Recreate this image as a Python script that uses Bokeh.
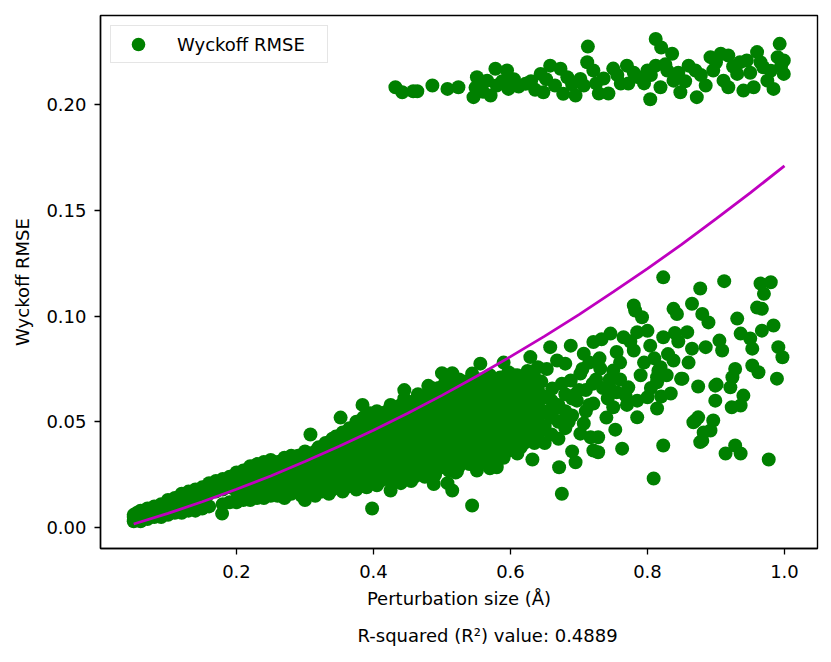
from bokeh.plotting import figure
from bokeh.models import Range1d, FixedTicker, PrintfTickFormatter, Title, Legend, LegendItem
from bokeh.embed import file_html
from bokeh.resources import INLINE

# ---- data ----
# lower band: (perturbation size, Wyckoff RMSE)
points_low = [
    (0.050, 0.003), (0.050, 0.005), (0.050, 0.006), (0.055, 0.004), (0.055, 0.007),
    (0.060, 0.003), (0.060, 0.006), (0.060, 0.008), (0.070, 0.004), (0.070, 0.007),
    (0.070, 0.009), (0.080, 0.005), (0.080, 0.008), (0.080, 0.010), (0.090, 0.005),
    (0.090, 0.009), (0.090, 0.011), (0.100, 0.006), (0.100, 0.010), (0.100, 0.013),
    (0.110, 0.007), (0.110, 0.011), (0.110, 0.014), (0.120, 0.007), (0.120, 0.012),
    (0.120, 0.016), (0.130, 0.008), (0.130, 0.013), (0.130, 0.017), (0.140, 0.008),
    (0.140, 0.014), (0.140, 0.018), (0.150, 0.009), (0.150, 0.015), (0.150, 0.019),
    (0.160, 0.010), (0.160, 0.016), (0.160, 0.021), (0.179, 0.0066), (0.170, 0.017),
    (0.170, 0.022), (0.180, 0.011), (0.180, 0.018), (0.180, 0.023), (0.190, 0.012),
    (0.190, 0.019), (0.190, 0.024), (0.200, 0.012), (0.200, 0.017), (0.200, 0.022),
    (0.200, 0.026), (0.210, 0.013), (0.210, 0.018), (0.210, 0.023), (0.210, 0.027),
    (0.220, 0.013), (0.220, 0.019), (0.220, 0.025), (0.220, 0.029), (0.230, 0.014),
    (0.230, 0.020), (0.230, 0.026), (0.230, 0.030), (0.240, 0.014), (0.240, 0.021),
    (0.240, 0.027), (0.240, 0.031), (0.250, 0.015), (0.250, 0.022), (0.250, 0.028),
    (0.250, 0.032), (0.260, 0.015), (0.260, 0.021), (0.260, 0.027), (0.260, 0.031),
    (0.270, 0.014), (0.270, 0.022), (0.270, 0.029), (0.270, 0.033), (0.280, 0.016),
    (0.280, 0.023), (0.280, 0.030), (0.280, 0.034), (0.290, 0.017), (0.290, 0.024),
    (0.290, 0.031), (0.290, 0.034), (0.300, 0.013), (0.300, 0.018), (0.300, 0.025),
    (0.300, 0.032), (0.300, 0.036), (0.310, 0.018), (0.310, 0.026), (0.310, 0.033),
    (0.308, 0.044), (0.320, 0.019), (0.320, 0.027), (0.320, 0.034), (0.320, 0.038),
    (0.330, 0.020), (0.330, 0.028), (0.330, 0.035), (0.330, 0.040), (0.340, 0.018),
    (0.340, 0.025), (0.340, 0.032), (0.340, 0.039), (0.340, 0.042), (0.350, 0.020),
    (0.350, 0.027), (0.350, 0.034), (0.350, 0.041), (0.352, 0.052), (0.360, 0.019),
    (0.360, 0.028), (0.360, 0.036), (0.360, 0.043), (0.370, 0.021), (0.370, 0.030),
    (0.370, 0.037), (0.370, 0.045), (0.380, 0.022), (0.380, 0.031), (0.380, 0.039),
    (0.380, 0.047), (0.384, 0.058), (0.390, 0.019), (0.390, 0.026), (0.390, 0.033),
    (0.390, 0.041), (0.390, 0.048), (0.398, 0.009), (0.400, 0.024), (0.400, 0.030),
    (0.400, 0.037), (0.400, 0.044), (0.400, 0.050), (0.410, 0.022), (0.410, 0.029),
    (0.410, 0.036), (0.410, 0.045), (0.410, 0.052), (0.425, 0.0175), (0.420, 0.027),
    (0.420, 0.034), (0.420, 0.042), (0.420, 0.049), (0.420, 0.055), (0.430, 0.024),
    (0.430, 0.031), (0.430, 0.039), (0.430, 0.047), (0.430, 0.054), (0.440, 0.021),
    (0.440, 0.029), (0.440, 0.036), (0.440, 0.044), (0.440, 0.051), (0.440, 0.058),
    (0.445, 0.065), (0.450, 0.026), (0.450, 0.033), (0.450, 0.041), (0.450, 0.049),
    (0.450, 0.056), (0.460, 0.024), (0.460, 0.031), (0.460, 0.038), (0.460, 0.046),
    (0.460, 0.053), (0.460, 0.060), (0.470, 0.027), (0.470, 0.035), (0.470, 0.043),
    (0.470, 0.050), (0.470, 0.058), (0.488, 0.0206), (0.480, 0.028), (0.480, 0.036),
    (0.480, 0.044), (0.480, 0.052), (0.480, 0.061), (0.480, 0.067), (0.490, 0.025),
    (0.490, 0.032), (0.490, 0.040), (0.490, 0.048), (0.490, 0.056), (0.490, 0.063),
    (0.500, 0.030), (0.500, 0.037), (0.500, 0.045), (0.500, 0.053), (0.500, 0.060),
    (0.500, 0.073), (0.508, 0.021), (0.510, 0.027), (0.510, 0.035), (0.510, 0.042),
    (0.510, 0.050), (0.510, 0.057), (0.510, 0.064), (0.520, 0.026), (0.520, 0.033),
    (0.520, 0.040), (0.520, 0.047), (0.520, 0.055), (0.520, 0.062), (0.515, 0.073),
    (0.515, 0.0175), (0.478, 0.028), (0.522, 0.0266), (0.544, 0.0104), (0.551, 0.027),
    (0.570, 0.028), (0.580, 0.0285), (0.530, 0.036), (0.530, 0.044), (0.530, 0.052),
    (0.530, 0.059), (0.530, 0.066), (0.540, 0.030), (0.540, 0.040), (0.540, 0.048),
    (0.540, 0.056), (0.540, 0.063), (0.544, 0.0728), (0.550, 0.033), (0.550, 0.043),
    (0.550, 0.051), (0.550, 0.059), (0.550, 0.066), (0.556, 0.0775), (0.560, 0.037),
    (0.560, 0.045), (0.560, 0.053), (0.560, 0.061), (0.560, 0.068), (0.570, 0.032),
    (0.570, 0.040), (0.570, 0.048), (0.570, 0.057), (0.570, 0.064), (0.570, 0.072),
    (0.580, 0.036), (0.580, 0.044), (0.580, 0.052), (0.580, 0.060), (0.580, 0.067),
    (0.590, 0.033), (0.590, 0.042), (0.590, 0.050), (0.590, 0.058), (0.590, 0.065),
    (0.590, 0.078), (0.597, 0.0734), (0.600, 0.038), (0.600, 0.046), (0.600, 0.054),
    (0.600, 0.061), (0.600, 0.068), (0.610, 0.035), (0.610, 0.043), (0.610, 0.050),
    (0.610, 0.058), (0.610, 0.065), (0.610, 0.072), (0.620, 0.040), (0.620, 0.048),
    (0.620, 0.056), (0.620, 0.063), (0.620, 0.070), (0.632, 0.0322), (0.630, 0.045),
    (0.630, 0.053), (0.630, 0.061), (0.630, 0.068), (0.629, 0.0806), (0.640, 0.042),
    (0.640, 0.050), (0.640, 0.058), (0.640, 0.065), (0.640, 0.0758), (0.650, 0.040),
    (0.650, 0.048), (0.650, 0.055), (0.650, 0.062), (0.653, 0.075), (0.658, 0.0853),
    (0.660, 0.044), (0.660, 0.052), (0.660, 0.060), (0.661, 0.0657), (0.668, 0.079),
    (0.671, 0.0285), (0.675, 0.016), (0.670, 0.042), (0.670, 0.050), (0.670, 0.058),
    (0.680, 0.047), (0.680, 0.055), (0.680, 0.063), (0.680, 0.0775), (0.688, 0.086),
    (0.688, 0.0695), (0.695, 0.0309), (0.690, 0.036), (0.690, 0.053), (0.690, 0.061),
    (0.697, 0.060), (0.702, 0.0728), (0.702, 0.0444), (0.707, 0.0822), (0.707, 0.0492),
    (0.710, 0.055), (0.710, 0.065), (0.717, 0.0427), (0.721, 0.0877), (0.721, 0.0586),
    (0.721, 0.0364), (0.728, 0.0356), (0.728, 0.0427), (0.731, 0.0752), (0.733, 0.089),
    (0.735, 0.066), (0.740, 0.052), (0.746, 0.0917), (0.750, 0.0742), (0.750, 0.0569),
    (0.753, 0.0463), (0.755, 0.083), (0.760, 0.078), (0.763, 0.0373), (0.768, 0.0624),
    (0.772, 0.0663), (0.775, 0.088), (0.780, 0.105), (0.782, 0.1026), (0.792, 0.0994),
    (0.780, 0.0837), (0.785, 0.0924), (0.785, 0.060), (0.785, 0.0521), (0.790, 0.072),
    (0.800, 0.0616), (0.804, 0.086), (0.809, 0.0232), (0.814, 0.0711), (0.814, 0.0687),
    (0.814, 0.0563), (0.816, 0.0742), (0.819, 0.0758), (0.823, 0.1183), (0.823, 0.090),
    (0.823, 0.0388), (0.830, 0.082), (0.834, 0.0634), (0.838, 0.079), (0.838, 0.1034),
    (0.843, 0.101), (0.849, 0.0703), (0.851, 0.0704), (0.858, 0.0924), (0.865, 0.1058),
    (0.865, 0.0846), (0.867, 0.0498), (0.870, 0.0506), (0.874, 0.0667), (0.874, 0.0521),
    (0.877, 0.113), (0.877, 0.0404), (0.880, 0.101), (0.880, 0.0411), (0.882, 0.045),
    (0.885, 0.0853), (0.889, 0.097), (0.892, 0.0459), (0.896, 0.0506), (0.899, 0.0671),
    (0.899, 0.060), (0.901, 0.0676), (0.905, 0.0884), (0.909, 0.0837), (0.912, 0.1165),
    (0.914, 0.035), (0.921, 0.0663), (0.923, 0.0569), (0.924, 0.0711), (0.928, 0.075),
    (0.928, 0.0388), (0.931, 0.0988), (0.936, 0.0917), (0.936, 0.0577), (0.936, 0.035),
    (0.940, 0.0624), (0.950, 0.0894), (0.953, 0.0846), (0.953, 0.0766), (0.960, 0.104),
    (0.962, 0.0734), (0.965, 0.1154), (0.967, 0.1034), (0.967, 0.0931), (0.970, 0.1105),
    (0.977, 0.0322), (0.980, 0.116), (0.984, 0.0955), (0.989, 0.0704), (0.991, 0.0853),
    (0.997, 0.0805), (0.760, 0.070), (0.770, 0.058), (0.795, 0.078), (0.805, 0.066),
    (0.810, 0.080), (0.828, 0.072), (0.845, 0.088), (0.860, 0.078), (0.730, 0.080),
    (0.745, 0.070), (0.742, 0.061), (0.720, 0.068), (0.700, 0.065), (0.715, 0.078),
    (0.755, 0.064), (0.765, 0.090), (0.800, 0.093), (0.820, 0.062), (0.840, 0.092),
]

# more points inside the dense part of the lower band
points_band = [
    (0.205, 0.015), (0.205, 0.020), (0.205, 0.024), (0.215, 0.016), (0.215, 0.021),
    (0.215, 0.025), (0.225, 0.016), (0.225, 0.022), (0.225, 0.027), (0.235, 0.017),
    (0.235, 0.023), (0.235, 0.028), (0.245, 0.018), (0.245, 0.024), (0.245, 0.029),
    (0.255, 0.018), (0.255, 0.025), (0.255, 0.030), (0.265, 0.018), (0.265, 0.024),
    (0.265, 0.030), (0.275, 0.019), (0.275, 0.026), (0.275, 0.031), (0.285, 0.020),
    (0.285, 0.027), (0.285, 0.032), (0.295, 0.015), (0.295, 0.021), (0.295, 0.028),
    (0.295, 0.034), (0.305, 0.016), (0.305, 0.022), (0.305, 0.029), (0.305, 0.035),
    (0.315, 0.015), (0.315, 0.022), (0.315, 0.030), (0.315, 0.036), (0.325, 0.017),
    (0.325, 0.023), (0.325, 0.031), (0.325, 0.037), (0.335, 0.016), (0.335, 0.024),
    (0.335, 0.032), (0.335, 0.038), (0.345, 0.022), (0.345, 0.029), (0.345, 0.036),
    (0.345, 0.043), (0.355, 0.017), (0.355, 0.024), (0.355, 0.031), (0.355, 0.038),
    (0.355, 0.045), (0.365, 0.023), (0.365, 0.032), (0.365, 0.040), (0.365, 0.047),
    (0.375, 0.018), (0.375, 0.026), (0.375, 0.034), (0.375, 0.042), (0.375, 0.050),
    (0.385, 0.024), (0.385, 0.028), (0.385, 0.036), (0.385, 0.044), (0.385, 0.052),
    (0.395, 0.022), (0.395, 0.030), (0.395, 0.038), (0.395, 0.046), (0.395, 0.054),
    (0.405, 0.020), (0.405, 0.027), (0.405, 0.033), (0.405, 0.041), (0.405, 0.048),
    (0.405, 0.055), (0.415, 0.025), (0.415, 0.031), (0.415, 0.039), (0.415, 0.047),
    (0.415, 0.054), (0.425, 0.022), (0.425, 0.030), (0.425, 0.037), (0.425, 0.045),
    (0.425, 0.052), (0.425, 0.058), (0.435, 0.027), (0.435, 0.034), (0.435, 0.042),
    (0.435, 0.050), (0.435, 0.057), (0.445, 0.025), (0.445, 0.032), (0.445, 0.040),
    (0.445, 0.048), (0.445, 0.055), (0.445, 0.061), (0.455, 0.022), (0.455, 0.029),
    (0.455, 0.037), (0.455, 0.045), (0.455, 0.052), (0.455, 0.059), (0.465, 0.027),
    (0.465, 0.034), (0.465, 0.042), (0.465, 0.049), (0.465, 0.056), (0.465, 0.063),
    (0.475, 0.024), (0.475, 0.031), (0.475, 0.039), (0.475, 0.047), (0.475, 0.054),
    (0.475, 0.062), (0.485, 0.030), (0.485, 0.037), (0.485, 0.045), (0.485, 0.052),
    (0.485, 0.059), (0.485, 0.066), (0.495, 0.028), (0.495, 0.035), (0.495, 0.042),
    (0.495, 0.050), (0.495, 0.058), (0.495, 0.066), (0.505, 0.032), (0.505, 0.040),
    (0.505, 0.047), (0.505, 0.055), (0.505, 0.063), (0.505, 0.069), (0.515, 0.030),
    (0.515, 0.037), (0.515, 0.045), (0.515, 0.053), (0.515, 0.060), (0.515, 0.067),
    (0.525, 0.029), (0.525, 0.036), (0.525, 0.043), (0.525, 0.050), (0.525, 0.058),
    (0.525, 0.065), (0.525, 0.070), (0.535, 0.033), (0.535, 0.040), (0.535, 0.048),
    (0.535, 0.055), (0.535, 0.062), (0.535, 0.069), (0.545, 0.036), (0.545, 0.044),
    (0.545, 0.052), (0.545, 0.059), (0.545, 0.067), (0.555, 0.030), (0.555, 0.039),
    (0.555, 0.047), (0.555, 0.055), (0.555, 0.063), (0.555, 0.070), (0.565, 0.035),
    (0.565, 0.043), (0.565, 0.051), (0.565, 0.059), (0.565, 0.066), (0.575, 0.038),
    (0.575, 0.046), (0.575, 0.054), (0.575, 0.062), (0.575, 0.069), (0.585, 0.033),
    (0.585, 0.040), (0.585, 0.048), (0.585, 0.056), (0.585, 0.064), (0.585, 0.071),
    (0.595, 0.036), (0.595, 0.045), (0.595, 0.053), (0.595, 0.061), (0.595, 0.069),
    (0.605, 0.041), (0.605, 0.049), (0.605, 0.057), (0.605, 0.065), (0.605, 0.072),
    (0.615, 0.038), (0.615, 0.046), (0.615, 0.054), (0.615, 0.061), (0.615, 0.068),
    (0.625, 0.043), (0.625, 0.051), (0.625, 0.059), (0.625, 0.066), (0.625, 0.074),
    (0.635, 0.040), (0.635, 0.048), (0.635, 0.056), (0.635, 0.064), (0.635, 0.071),
    (0.645, 0.046), (0.645, 0.054), (0.645, 0.061), (0.645, 0.069), (0.665, 0.056),
    (0.675, 0.068), (0.685, 0.050), (0.695, 0.063), (0.705, 0.075), (0.715, 0.058),
    (0.725, 0.070), (0.745, 0.066),
]

# upper cluster
points_high = [
    (0.432, 0.2082), (0.442, 0.2058), (0.458, 0.2063), (0.464, 0.2063), (0.486, 0.2090),
    (0.508, 0.2074), (0.524, 0.2082), (0.546, 0.2035), (0.551, 0.2129), (0.549, 0.2080),
    (0.571, 0.2043), (0.578, 0.2169), (0.595, 0.2161), (0.566, 0.2113), (0.580, 0.2090),
    (0.597, 0.2074), (0.622, 0.2098), (0.644, 0.2145), (0.658, 0.2184), (0.648, 0.2058),
    (0.673, 0.2169), (0.677, 0.2051), (0.683, 0.2129), (0.695, 0.2043), (0.702, 0.2121),
    (0.707, 0.2090), (0.712, 0.2200), (0.713, 0.2274), (0.721, 0.2161), (0.729, 0.2052),
    (0.736, 0.2123), (0.743, 0.2052), (0.750, 0.2170), (0.761, 0.2099), (0.770, 0.2184),
    (0.772, 0.2099), (0.787, 0.2129), (0.800, 0.2161), (0.804, 0.2025), (0.812, 0.2310),
    (0.820, 0.2270), (0.812, 0.2184), (0.819, 0.2082), (0.829, 0.2161), (0.836, 0.2240),
    (0.838, 0.2113), (0.848, 0.2058), (0.860, 0.2184), (0.870, 0.2161), (0.872, 0.2035),
    (0.885, 0.2090), (0.892, 0.2224), (0.896, 0.2161), (0.907, 0.2240), (0.911, 0.2113),
    (0.918, 0.2232), (0.918, 0.2082), (0.931, 0.2145), (0.940, 0.2066), (0.945, 0.2208),
    (0.955, 0.2082), (0.960, 0.2248), (0.969, 0.2176), (0.975, 0.2113), (0.984, 0.2074),
    (0.993, 0.2287), (0.999, 0.2208), (0.999, 0.2145), (0.990, 0.2224), (0.556, 0.2100),
    (0.560, 0.2060), (0.588, 0.2110), (0.605, 0.2120), (0.612, 0.2085), (0.630, 0.2110),
    (0.636, 0.2070), (0.652, 0.2120), (0.665, 0.2090), (0.690, 0.2095), (0.725, 0.2100),
    (0.756, 0.2140), (0.780, 0.2150), (0.795, 0.2100), (0.805, 0.2140), (0.826, 0.2190),
    (0.845, 0.2150), (0.855, 0.2110), (0.878, 0.2140), (0.900, 0.2200), (0.925, 0.2180),
    (0.935, 0.2200), (0.950, 0.2150), (0.965, 0.2200), (0.980, 0.2160), (0.995, 0.2180),
]

# fitted curve
fit_x = [0.05, 0.10, 0.15, 0.20, 0.25, 0.30, 0.35, 0.40, 0.45, 0.50,
         0.55, 0.60, 0.65, 0.70, 0.75, 0.80, 0.85, 0.90, 0.95, 1.00]
fit_y = [0.0017, 0.0067, 0.0122, 0.0181, 0.0244, 0.0312, 0.0384, 0.0460, 0.0540, 0.0625,
         0.0714, 0.0808, 0.0905, 0.1007, 0.1114, 0.1224, 0.1339, 0.1459, 0.1582, 0.1710]

x_ticks = [0.2, 0.4, 0.6, 0.8, 1.0]
y_ticks = [0.00, 0.05, 0.10, 0.15, 0.20]
r2_text = "R-squared (R\u00b2) value: 0.4889"

pts = points_low + points_band + points_high
px = [a for a, b in pts]
py = [b for a, b in pts]

FONT = "DejaVu Sans"
FS = "18px"

p = figure(frame_width=717, frame_height=533,
           min_border_left=100, min_border_right=6, min_border_top=15, min_border_bottom=4,
           x_range=Range1d(0.0015, 1.0482), y_range=Range1d(-0.0099, 0.2421),
           output_backend="svg", toolbar_location=None,
           background_fill_color="white", border_fill_color="white")
p.grid.visible = False
p.outline_line_color = "black"
p.outline_line_width = 1.4

sc = p.scatter(px, py, size=14, fill_color="#008000", line_color="#008000", line_width=0)
p.line(fit_x, fit_y, line_color="#bf00bf", line_width=2.8)

for ax in (p.xaxis[0], p.yaxis[0]):
    ax.major_tick_out = 6
    ax.major_tick_in = 0
    ax.minor_tick_out = 0
    ax.minor_tick_in = 0
    ax.axis_line_width = 1.4
    ax.major_tick_line_width = 1.3
    ax.major_label_text_font = FONT
    ax.major_label_text_font_size = FS
    ax.major_label_text_color = "black"
    ax.axis_label_text_font = FONT
    ax.axis_label_text_font_size = FS
    ax.axis_label_text_font_style = "normal"
    ax.axis_label_text_color = "black"

p.xaxis[0].ticker = FixedTicker(ticks=x_ticks)
p.xaxis[0].formatter = PrintfTickFormatter(format="%.1f")
p.xaxis[0].axis_label = "Perturbation size (\u00c5)"
p.xaxis[0].major_label_standoff = 10
p.xaxis[0].axis_label_standoff = 7

p.yaxis[0].ticker = FixedTicker(ticks=y_ticks)
p.yaxis[0].formatter = PrintfTickFormatter(format="%.2f")
p.yaxis[0].axis_label = "Wyckoff RMSE"
p.yaxis[0].major_label_standoff = 8
p.yaxis[0].axis_label_standoff = 10

t = Title(text=r2_text, align="left", offset=257, standoff=22,
          text_font=FONT, text_font_size=FS, text_font_style="normal", text_color="black")
p.add_layout(t, "below")

legend = Legend(items=[LegendItem(label="Wyckoff RMSE", renderers=[sc])],
                location="top_left", margin=10, padding=1, spacing=0,
                glyph_width=52, glyph_height=34, label_height=34, label_width=149,
                label_standoff=13,
                label_text_font=FONT, label_text_font_size=FS, label_text_color="black",
                border_line_color="#cccccc", border_line_width=1.2,
                background_fill_alpha=0.8)
p.add_layout(legend)

open("out.html", "w").write(file_html(p, INLINE))
